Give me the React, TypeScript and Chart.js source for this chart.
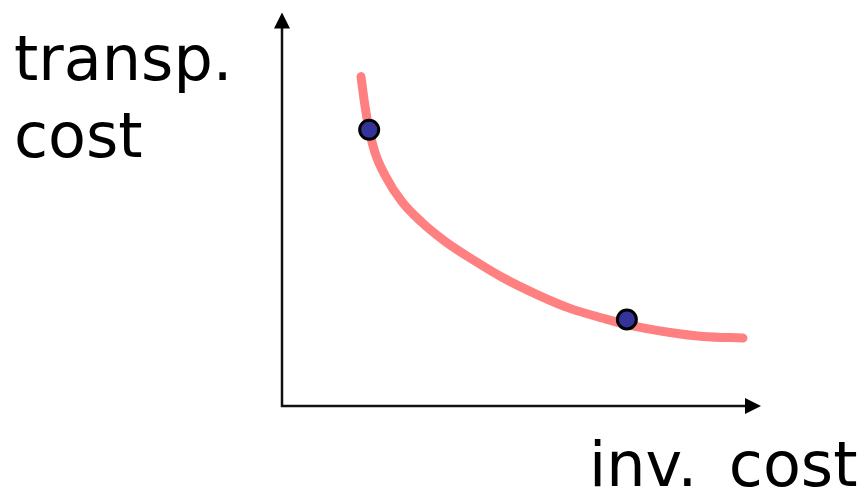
import React, { useEffect, useRef } from "react";
import { Chart, registerables } from "chart.js";

Chart.register(...registerables);

// Trade-off curve (inv. cost on x, transp. cost on y)
const curveX = [16.49, 17.33, 18.16, 19.42, 21.5, 25.05, 29.23, 34.03, 40.29, 46.14, 53.24, 60.13, 67.01, 72.03, 81.0, 87.89, 96.24];
const curveY = [83.71, 76.19, 70.43, 64.41, 58.65, 51.88, 46.62, 41.85, 36.84, 32.58, 28.32, 24.81, 22.31, 20.68, 18.67, 17.67, 17.29];

// Two highlighted solutions
const pointX = [18.2, 72.0];
const pointY = [70.2, 22.0];

const yLabelLines = ["transp.", "cost"];
const xLabel = "inv. cost";

const axesPlugin = {
  id: "arrowAxes",
  afterDatasetsDraw(chart: any) {
    const { ctx, chartArea } = chart;
    const { left, right, top, bottom } = chartArea;
    ctx.save();
    ctx.strokeStyle = "#111";
    ctx.fillStyle = "#000";
    ctx.lineWidth = 2.5;
    ctx.beginPath();
    ctx.moveTo(left, top + 14);
    ctx.lineTo(left, bottom);
    ctx.lineTo(right - 14, bottom);
    ctx.stroke();
    // y arrow
    ctx.beginPath();
    ctx.moveTo(left, top);
    ctx.lineTo(left - 8, top + 16);
    ctx.lineTo(left + 8, top + 16);
    ctx.closePath();
    ctx.fill();
    // x arrow
    ctx.beginPath();
    ctx.moveTo(right, bottom);
    ctx.lineTo(right - 16, bottom - 8);
    ctx.lineTo(right - 16, bottom + 8);
    ctx.closePath();
    ctx.fill();
    ctx.restore();
  },
};

export default function App() {
  const ref = useRef<HTMLCanvasElement | null>(null);

  useEffect(() => {
    if (!ref.current) return;
    const chart = new Chart(ref.current, {
      type: "scatter",
      data: {
        datasets: [
          {
            label: "solutions",
            data: pointX.map((x, i) => ({ x, y: pointY[i] })),
            backgroundColor: "#333399",
            borderColor: "#000",
            borderWidth: 3,
            pointRadius: 9.5,
            showLine: false,
          },
          {
            label: "curve",
            data: curveX.map((x, i) => ({ x, y: curveY[i] })),
            showLine: true,
            borderColor: "#ff8080",
            borderWidth: 9,
            borderCapStyle: "round",
            borderJoinStyle: "round",
            pointRadius: 0,
            cubicInterpolationMode: "monotone",
            fill: false,
          },
        ],
      },
      options: {
        animation: false,
        responsive: false,
        maintainAspectRatio: false,
        layout: { padding: { left: 282, right: 104, top: 7, bottom: 85 } },
        plugins: { legend: { display: false }, tooltip: { enabled: false } },
        scales: {
          x: { type: "linear", min: 0, max: 100, display: false },
          y: { type: "linear", min: 0, max: 100, display: false },
        },
      },
      plugins: [axesPlugin],
    });
    return () => chart.destroy();
  }, []);

  const font: React.CSSProperties = {
    position: "absolute",
    fontFamily: "'DejaVu Sans', sans-serif",
    fontSize: 62,
    lineHeight: "77px",
    color: "#000",
    whiteSpace: "nowrap",
  };

  return (
    <div style={{ position: "absolute", left: 0, top: 0, width: 865, height: 491, overflow: "hidden", background: "#fff" }}>
      <canvas ref={ref} width={865} height={491} style={{ position: "absolute", left: 0, top: 0, width: 865, height: 491 }} />
      <div style={{ ...font, left: 14, top: 20 }}>
        {yLabelLines.map((l) => (
          <div key={l}>{l}</div>
        ))}
      </div>
      <div style={{ ...font, left: 589, top: 426, wordSpacing: 12 }}>{xLabel}</div>
    </div>
  );
}
